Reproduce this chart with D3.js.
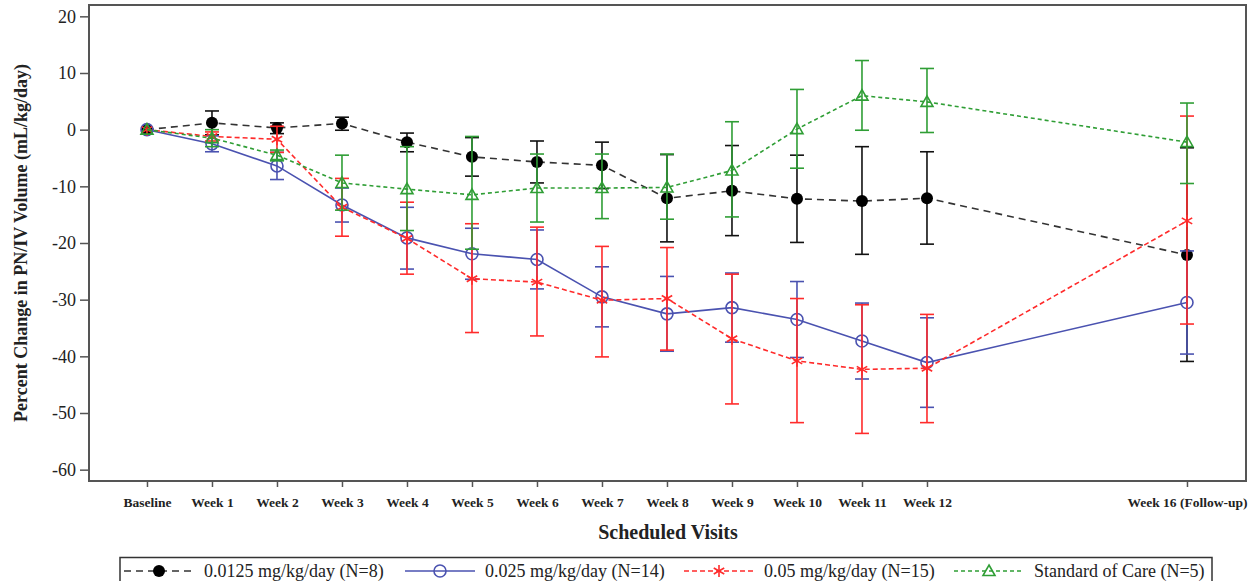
<!DOCTYPE html>
<html>
<head>
<meta charset="utf-8">
<script src="https://cdn.jsdelivr.net/npm/d3@7"></script>
<style>
  html, body { margin: 0; padding: 0; background: #fff; }
  svg { display: block; font-family: "Liberation Serif", "Times New Roman", serif; }
</style>
</head>
<body>
<svg id="chart" width="1260" height="581"></svg>
<script>
// Scheduled visit positions (in weeks) and their axis labels
const visitWeeks = [0, 1, 2, 3, 4, 5, 6, 7, 8, 9, 10, 11, 12, 16];
const visitLabels = ["Baseline", "Week 1", "Week 2", "Week 3", "Week 4", "Week 5", "Week 6",
  "Week 7", "Week 8", "Week 9", "Week 10", "Week 11", "Week 12", "Week 16 (Follow-up)"];
const yTicks = [-60, -50, -40, -30, -20, -10, 0, 10, 20];

// 0.0125 mg/kg/day (N=8)
const lowMean  = [0, 1.2, 0.3, 1.1, -2.2, -4.8, -5.7, -6.3, -12.1, -10.8, -12.2, -12.6, -12.1, -22.1];
const lowLower = [0, -0.9, -0.7, -0.1, -3.9, -8.2, -9.4, -10.4, -19.8, -18.7, -19.9, -22.0, -20.2, -40.9];
const lowUpper = [0, 3.3, 1.2, 2.2, -0.6, -1.4, -2.0, -2.2, -4.4, -2.8, -4.5, -3.0, -3.9, -3.2];

// 0.025 mg/kg/day (N=14)
const midMean  = [0, -2.5, -6.4, -13.3, -19.1, -21.9, -22.9, -29.5, -32.5, -31.4, -33.5, -37.3, -41.1, -30.5];
const midLower = [0, -3.9, -8.8, -16.3, -24.6, -26.4, -28.1, -34.8, -39.1, -37.5, -40.2, -44.0, -49.0, -39.6];
const midUpper = [0, -1.1, -4.0, -10.3, -13.7, -17.4, -17.7, -24.2, -25.9, -25.3, -26.8, -30.6, -33.2, -21.4];

// 0.05 mg/kg/day (N=15)
const highMean  = [0, -1.2, -1.7, -13.7, -19.2, -26.3, -26.9, -30.1, -29.8, -36.9, -40.8, -42.3, -42.1, -16.1];
const highLower = [0, -2.0, -4.0, -18.8, -25.5, -35.8, -36.4, -40.1, -38.9, -48.4, -51.7, -53.6, -51.7, -34.3];
const highUpper = [0, -0.4, 0.6, -8.6, -12.8, -16.6, -17.2, -20.6, -20.8, -25.5, -29.8, -30.9, -32.6, 2.4];

// Standard of Care (N=5)
const socMean  = [0, -1.5, -4.5, -9.4, -10.5, -11.5, -10.3, -10.3, -10.2, -7.2, 0.1, 6.0, 4.9, -2.2];
const socLower = [0, -3.0, -5.5, -14.2, -17.8, -21.1, -16.3, -15.7, -15.8, -15.4, -6.8, -0.1, -0.5, -9.5];
const socUpper = [0, 0.0, -3.6, -4.5, -3.0, -1.2, -4.3, -4.3, -4.3, 1.4, 7.1, 12.2, 10.8, 4.7];

const seriesNames = ["0.0125 mg/kg/day (N=8)", "0.025 mg/kg/day (N=14)",
  "0.05 mg/kg/day (N=15)", "Standard of Care (N=5)"];

const series = [
  { name: seriesNames[0], mean: lowMean,  lower: lowLower,  upper: lowUpper,
    line: "#333333", bar: "#111111", dash: "7,5", marker: "dot", mcolor: "#000000" },
  { name: seriesNames[1], mean: midMean,  lower: midLower,  upper: midUpper,
    line: "#4a52b0", bar: "#4a52b0", dash: null, marker: "circle", mcolor: "#4a52b0" },
  { name: seriesNames[2], mean: highMean, lower: highLower, upper: highUpper,
    line: "#ff2b2b", bar: "#ff2b2b", dash: "5,3", marker: "star", mcolor: "#ff2b2b" },
  { name: seriesNames[3], mean: socMean,  lower: socLower,  upper: socUpper,
    line: "#2f9e35", bar: "#2f9e35", dash: "4,3", marker: "triangle", mcolor: "#2f9e35" }
];

const svg = d3.select("#chart");
const plot = { left: 89, right: 1246, top: 5, bottom: 481 };
const serif = "'Liberation Serif', 'Times New Roman', serif";

const x = d3.scaleLinear().domain([-0.892, 16.908]).range([plot.left, plot.right]);
const y = d3.scaleLinear().domain([-62, 22]).range([plot.bottom, plot.top]);

const frameColor = "#555555";

// Axes
const yAxis = d3.axisLeft(y).tickValues(yTicks).tickSize(9).tickPadding(4).tickFormat(d => String(d));
const gy = svg.append("g").attr("transform", `translate(${plot.left},0)`).call(yAxis)
  .attr("font-family", serif);
gy.select(".domain").remove();
gy.selectAll(".tick line").attr("stroke", frameColor).attr("stroke-width", 1.5);
gy.selectAll(".tick text").attr("font-size", 18).attr("fill", "#222");

const xAxis = d3.axisBottom(x).tickValues(visitWeeks).tickSize(6).tickPadding(10)
  .tickFormat((d, i) => visitLabels[i]);
const gx = svg.append("g").attr("transform", `translate(0,${plot.bottom})`).call(xAxis)
  .attr("font-family", serif);
gx.select(".domain").remove();
gx.selectAll(".tick line").attr("stroke", frameColor).attr("stroke-width", 1.5);
gx.selectAll(".tick text").attr("font-size", 13.5).attr("font-weight", "bold").attr("fill", "#222");

// Plot frame
svg.append("rect")
  .attr("x", plot.left).attr("y", plot.top)
  .attr("width", plot.right - plot.left).attr("height", plot.bottom - plot.top)
  .attr("fill", "none").attr("stroke", frameColor).attr("stroke-width", 2);

// Axis titles
svg.append("text")
  .attr("x", 668).attr("y", 539).attr("text-anchor", "middle")
  .attr("font-size", 20).attr("font-weight", "bold").attr("fill", "#222")
  .text("Scheduled Visits");

svg.append("text")
  .attr("transform", `translate(27,${(plot.top + plot.bottom) / 2}) rotate(-90)`)
  .attr("text-anchor", "middle")
  .attr("font-size", 18).attr("font-weight", "bold").attr("fill", "#222")
  .text("Percent Change in PN/IV Volume (mL/kg/day)");

// Marker drawing
function drawMarker(g, type, color, cx, cy) {
  const r = 6;
  if (type === "dot") {
    g.append("circle").attr("cx", cx).attr("cy", cy).attr("r", r).attr("fill", color);
  } else if (type === "circle") {
    g.append("circle").attr("cx", cx).attr("cy", cy).attr("r", r)
      .attr("fill", "none").attr("stroke", color).attr("stroke-width", 1.6);
  } else if (type === "triangle") {
    const pts = [[cx, cy - r], [cx + r, cy + r * 0.75], [cx - r, cy + r * 0.75]];
    g.append("path").attr("d", "M" + pts.map(p => p.join(",")).join("L") + "Z")
      .attr("fill", "none").attr("stroke", color).attr("stroke-width", 1.6);
  } else if (type === "star") {
    const a = r, b = r * 0.87, c = r * 0.5;
    [[0, -a, 0, a], [-b, -c, b, c], [-b, c, b, -c]].forEach(s => {
      g.append("line").attr("x1", cx + s[0]).attr("y1", cy + s[1])
        .attr("x2", cx + s[2]).attr("y2", cy + s[3])
        .attr("stroke", color).attr("stroke-width", 1.6);
    });
  }
}

const capHalf = 7;
const line = d3.line().x(d => x(d.w)).y(d => y(d.v));

series.forEach(s => {
  const g = svg.append("g");
  const pts = visitWeeks.map((w, i) => ({ w, v: s.mean[i], lo: s.lower[i], hi: s.upper[i] }));

  // error bars
  pts.filter(p => p.hi !== p.lo).forEach(p => {
    const cx = x(p.w);
    g.append("line").attr("x1", cx).attr("x2", cx).attr("y1", y(p.lo)).attr("y2", y(p.hi))
      .attr("stroke", s.bar).attr("stroke-width", 1.6);
    [p.lo, p.hi].forEach(v => {
      g.append("line").attr("x1", cx - capHalf).attr("x2", cx + capHalf)
        .attr("y1", y(v)).attr("y2", y(v))
        .attr("stroke", s.bar).attr("stroke-width", 1.6);
    });
  });

  // connecting line
  g.append("path").datum(pts).attr("d", line)
    .attr("fill", "none").attr("stroke", s.line).attr("stroke-width", 1.6)
    .attr("stroke-dasharray", s.dash);

  // markers
  pts.forEach(p => drawMarker(g, s.marker, s.mcolor, x(p.w), y(p.v)));
});

// Legend
const legendCenters = [159, 440, 719, 989];
const legend = svg.append("g");
legend.append("rect").attr("x", 120).attr("y", 557.5).attr("width", 1092).attr("height", 40)
  .attr("fill", "#fff").attr("stroke", "#333").attr("stroke-width", 1.5);
series.forEach((s, i) => {
  const cx = legendCenters[i], cy = 571;
  legend.append("line").attr("x1", cx - 35).attr("x2", cx + 35).attr("y1", cy).attr("y2", cy)
    .attr("stroke", s.line).attr("stroke-width", 1.6).attr("stroke-dasharray", s.dash);
  drawMarker(legend, s.marker, s.mcolor, cx, cy);
  legend.append("text").attr("x", cx + 45).attr("y", 577)
    .attr("font-size", 18).attr("fill", "#222").text(s.name);
});
</script>
</body>
</html>
